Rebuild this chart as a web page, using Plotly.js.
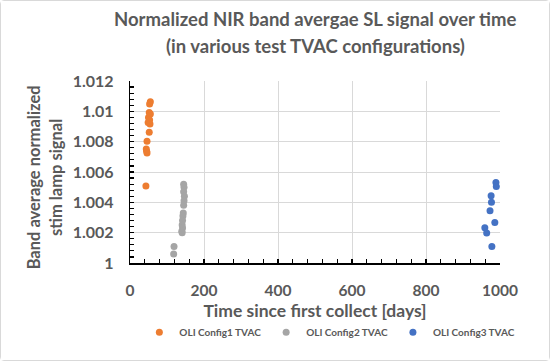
<!DOCTYPE html>
<html>
<head>
<meta charset="utf-8">
<script src="https://cdn.plot.ly/plotly-3.0.1.min.js"></script>
<style>
html,body{margin:0;padding:0;background:#fff;}
#chart{width:550px;height:361px;box-sizing:border-box;border:1px solid #d9d9d9;border-radius:4px;}
</style>
</head>
<body>
<div id="chart"></div>
<script>
// Series data (days since first collect, normalized signal)
const config1Days = [55, 53, 52, 55, 50, 53, 49, 54, 52, 46, 44, 45, 46, 43];
const config1Vals = [1.01064, 1.01048, 1.00993, 1.00982, 1.0096, 1.00943, 1.00927, 1.00916, 1.00862, 1.00802, 1.00752, 1.00736, 1.00725, 1.00508];

const config2Days = [145, 146, 145, 147, 146, 145, 144, 143, 142, 141, 142, 140, 141, 119, 118];
const config2Vals = [1.0052, 1.0050, 1.0047, 1.0044, 1.0041, 1.0038, 1.0033, 1.0031, 1.0028, 1.0025, 1.0023, 1.0021, 1.0020, 1.00108, 1.00059];

const config3Days = [989, 990, 976, 977, 973, 986, 959, 964, 978];
const config3Vals = [1.00531, 1.00504, 1.00444, 1.0040, 1.00344, 1.00267, 1.00233, 1.00198, 1.00109];

const seriesNames = ["OLI Config1 TVAC", "OLI Config2 TVAC", "OLI Config3 TVAC"];
const seriesColors = ["#ED7D31", "#A5A5A5", "#4472C4"];

const xTicks = [0, 200, 400, 600, 800, 1000];
const yTicks = [1, 1.002, 1.004, 1.006, 1.008, 1.01, 1.012];
const yTickText = ["1", "1.002", "1.004", "1.006", "1.008", "1.01", "1.012"];

const titleLines = ["Normalized NIR band avergae SL signal over time", "(in various test TVAC configurations)"];
const yTitle = "Band average normalized<br>stim lamp signal";
const xTitle = "Time since first collect [days]";

const FONT = "Lato, 'Open Sans', sans-serif";
const TXT = "#595959";
const PAD = "\u00a0\u00a0\u00a0";

const xs = [config1Days, config2Days, config3Days];
const ys = [config1Vals, config2Vals, config3Vals];
const traces = xs.map((x, i) => ({
  type: "scatter", mode: "markers", x: x, y: ys[i], name: seriesNames[i],
  marker: {color: seriesColors[i], size: 7}
}));

const layout = {
  width: 548, height: 359,
  margin: {l: 129, r: 49, t: 80, b: 97, autoexpand: false},
  paper_bgcolor: "#fff", plot_bgcolor: "#fff",
  font: {family: FONT, color: TXT},
  annotations: [
    {text: "<b>" + titleLines[0] + "</b>", xref: "paper", yref: "paper", x: 0.5, y: 1.341, xanchor: "center", yanchor: "middle", showarrow: false, font: {family: FONT, size: 18.5, color: TXT}},
    {text: "<b>" + titleLines[1] + "</b>", xref: "paper", yref: "paper", x: 0.5, y: 1.192, xanchor: "center", yanchor: "middle", showarrow: false, font: {family: FONT, size: 18.5, color: TXT}},
    {text: "<b>" + yTitle + "</b>", xref: "paper", yref: "paper", x: -0.23, y: 0.47, xanchor: "center", yanchor: "middle", textangle: -90, showarrow: false, font: {family: FONT, size: 16.5, color: TXT}}
  ],
  xaxis: {
    range: [0, 1000], tickvals: xTicks, ticktext: xTicks.map(String),
    showline: true, linecolor: "#000", linewidth: 1.5, mirror: false,
    ticks: "inside", ticklen: 4, tickcolor: "#000", tickwidth: 1.2,
    minor: {dtick: 40, ticks: "inside", ticklen: 4, tickcolor: "#000", tickwidth: 1.2, showgrid: false},
    showgrid: true, gridcolor: "#d9d9d9", gridwidth: 1, zeroline: false,
    tickfont: {family: FONT, size: 15.5, color: TXT, weight: "bold"},
    ticklabelstandoff: 13, automargin: false,
    title: {text: "<b>" + xTitle + "</b>", font: {family: FONT, size: 17.5, color: TXT}, standoff: 6}
  },
  yaxis: {
    range: [1, 1.012], tickvals: yTicks, ticktext: yTickText.map(t => t + PAD),
    showline: true, linecolor: "#000", linewidth: 1.5,
    ticks: "inside", ticklen: 4, tickcolor: "#000", tickwidth: 1.2,
    minor: {dtick: 0.0004, ticks: "inside", ticklen: 4, tickcolor: "#000", tickwidth: 1.2, showgrid: false},
    showgrid: true, gridcolor: "#d9d9d9", gridwidth: 1, zeroline: false,
    tickfont: {family: FONT, size: 16, color: TXT, weight: "bold"},
    automargin: false
  },
  legend: {
    orientation: "h", xref: "paper", yref: "paper",
    x: 1.055, xanchor: "right", y: -0.38, yanchor: "middle",
    font: {family: FONT, size: 10, color: TXT, weight: "bold"},
    itemwidth: 30, tracegroupgap: 0
  },
  showlegend: true
};

Plotly.newPlot("chart", traces, layout, {displayModeBar: false, staticPlot: true});
</script>
</body>
</html>
